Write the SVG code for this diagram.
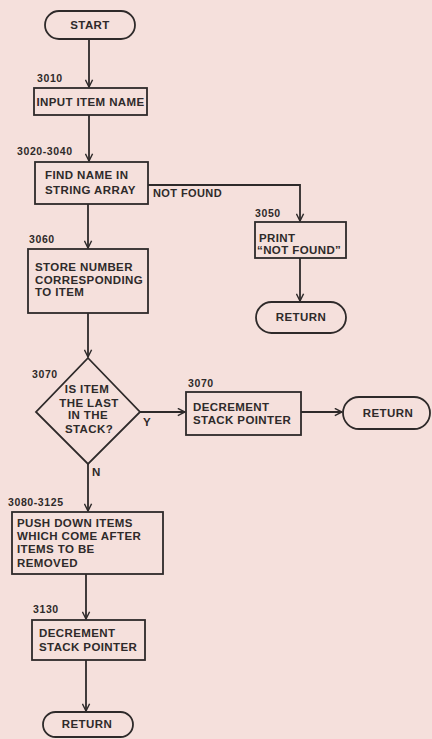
<svg xmlns="http://www.w3.org/2000/svg" width="432" height="739" viewBox="0 0 432 739">
<defs>
<style>
.bg{fill:#f5e0dc}
.shape{fill:none;stroke:#2e2a2a;stroke-width:1.8}
.conn{fill:none;stroke:#2e2a2a;stroke-width:1.8}
.t{font-family:"Liberation Sans",Arial,sans-serif;font-weight:bold;font-size:11.5px;fill:#2e2a2a;letter-spacing:0.4px}
.m{text-anchor:middle}
.lbl{font-family:"Liberation Sans",Arial,sans-serif;font-weight:bold;font-size:10.5px;fill:#2e2a2a;letter-spacing:0.6px}
</style>
<marker id="arr" viewBox="0 0 10 10" refX="9" refY="5" markerWidth="9" markerHeight="9" markerUnits="userSpaceOnUse" orient="auto">
<path d="M1,1 L9,5 L1,9" fill="none" stroke="#2e2a2a" stroke-width="1.6"/>
</marker>
</defs>
<rect class="bg" x="0" y="0" width="432" height="739"/>
<g id="connectors">
<path class="conn" d="M89,39 V87" marker-end="url(#arr)"/>
<path class="conn" d="M89,115 V161" marker-end="url(#arr)"/>
<path class="conn" d="M88,204 V248" marker-end="url(#arr)"/>
<path class="conn" d="M148,185 H300 V221" marker-end="url(#arr)"/>
<path class="conn" d="M300,258 V301" marker-end="url(#arr)"/>
<path class="conn" d="M88,313 V357" marker-end="url(#arr)"/>
<path class="conn" d="M140,412 H185" marker-end="url(#arr)"/>
<path class="conn" d="M301,412 H342" marker-end="url(#arr)"/>
<path class="conn" d="M88,464 V511" marker-end="url(#arr)"/>
<path class="conn" d="M86,574 V619" marker-end="url(#arr)"/>
<path class="conn" d="M86,660 V711" marker-end="url(#arr)"/>
<text class="t" x="153" y="197" style="font-size:11px">NOT FOUND</text>
<text class="t" x="143" y="426">Y</text>
<text class="t" x="92" y="476">N</text>
</g>
<g id="start">
<rect class="shape" x="45" y="11" width="90" height="28" rx="14"/>
<text class="t m" x="90" y="29">START</text>
</g>
<g id="input">
<text class="lbl" x="37" y="82">3010</text>
<rect class="shape" x="34" y="88" width="113" height="27"/>
<text class="t m" x="90.5" y="106">INPUT ITEM NAME</text>
</g>
<g id="find">
<text class="lbl" x="17" y="155">3020-3040</text>
<rect class="shape" x="35" y="162" width="113" height="42"/>
<text class="t" x="45" y="179">FIND NAME IN</text>
<text class="t" x="45" y="194">STRING ARRAY</text>
</g>
<g id="print">
<text class="lbl" x="255" y="217">3050</text>
<rect class="shape" x="255" y="222" width="91" height="36"/>
<text class="t" x="259" y="242">PRINT</text>
<text class="t" x="257" y="254">“NOT FOUND”</text>
</g>
<g id="return1">
<rect class="shape" x="256" y="302" width="90" height="31" rx="15.5"/>
<text class="t m" x="301" y="321">RETURN</text>
</g>
<g id="store">
<text class="lbl" x="29" y="243">3060</text>
<rect class="shape" x="28" y="249" width="120" height="64"/>
<text class="t" x="35" y="271">STORE NUMBER</text>
<text class="t" x="35" y="284">CORRESPONDING</text>
<text class="t" x="35" y="296">TO ITEM</text>
</g>
<g id="decision">
<text class="lbl" x="32" y="378">3070</text>
<polygon class="shape" points="88,358 140,412 88,464 36,412"/>
<text class="t m" x="87" y="393">IS ITEM</text>
<text class="t m" x="89" y="407">THE LAST</text>
<text class="t m" x="88" y="419">IN THE</text>
<text class="t m" x="89" y="433">STACK?</text>
</g>
<g id="decrement1">
<text class="lbl" x="188" y="387">3070</text>
<rect class="shape" x="186" y="392" width="115" height="43"/>
<text class="t" x="193" y="411">DECREMENT</text>
<text class="t" x="193" y="424">STACK POINTER</text>
</g>
<g id="return2">
<rect class="shape" x="343" y="397" width="87" height="32" rx="16"/>
<text class="t m" x="388" y="417">RETURN</text>
</g>
<g id="push">
<text class="lbl" x="8" y="506">3080-3125</text>
<rect class="shape" x="12" y="512" width="151" height="62"/>
<text class="t" x="17" y="527">PUSH DOWN ITEMS</text>
<text class="t" x="17" y="540">WHICH COME AFTER</text>
<text class="t" x="17" y="553">ITEMS TO BE</text>
<text class="t" x="17" y="567">REMOVED</text>
</g>
<g id="decrement2">
<text class="lbl" x="33" y="613">3130</text>
<rect class="shape" x="32" y="620" width="113" height="40"/>
<text class="t" x="39" y="637">DECREMENT</text>
<text class="t" x="39" y="651">STACK POINTER</text>
</g>
<g id="return3">
<rect class="shape" x="43" y="712" width="90" height="25" rx="12.5"/>
<text class="t m" x="87" y="728">RETURN</text>
</g>
</svg>
